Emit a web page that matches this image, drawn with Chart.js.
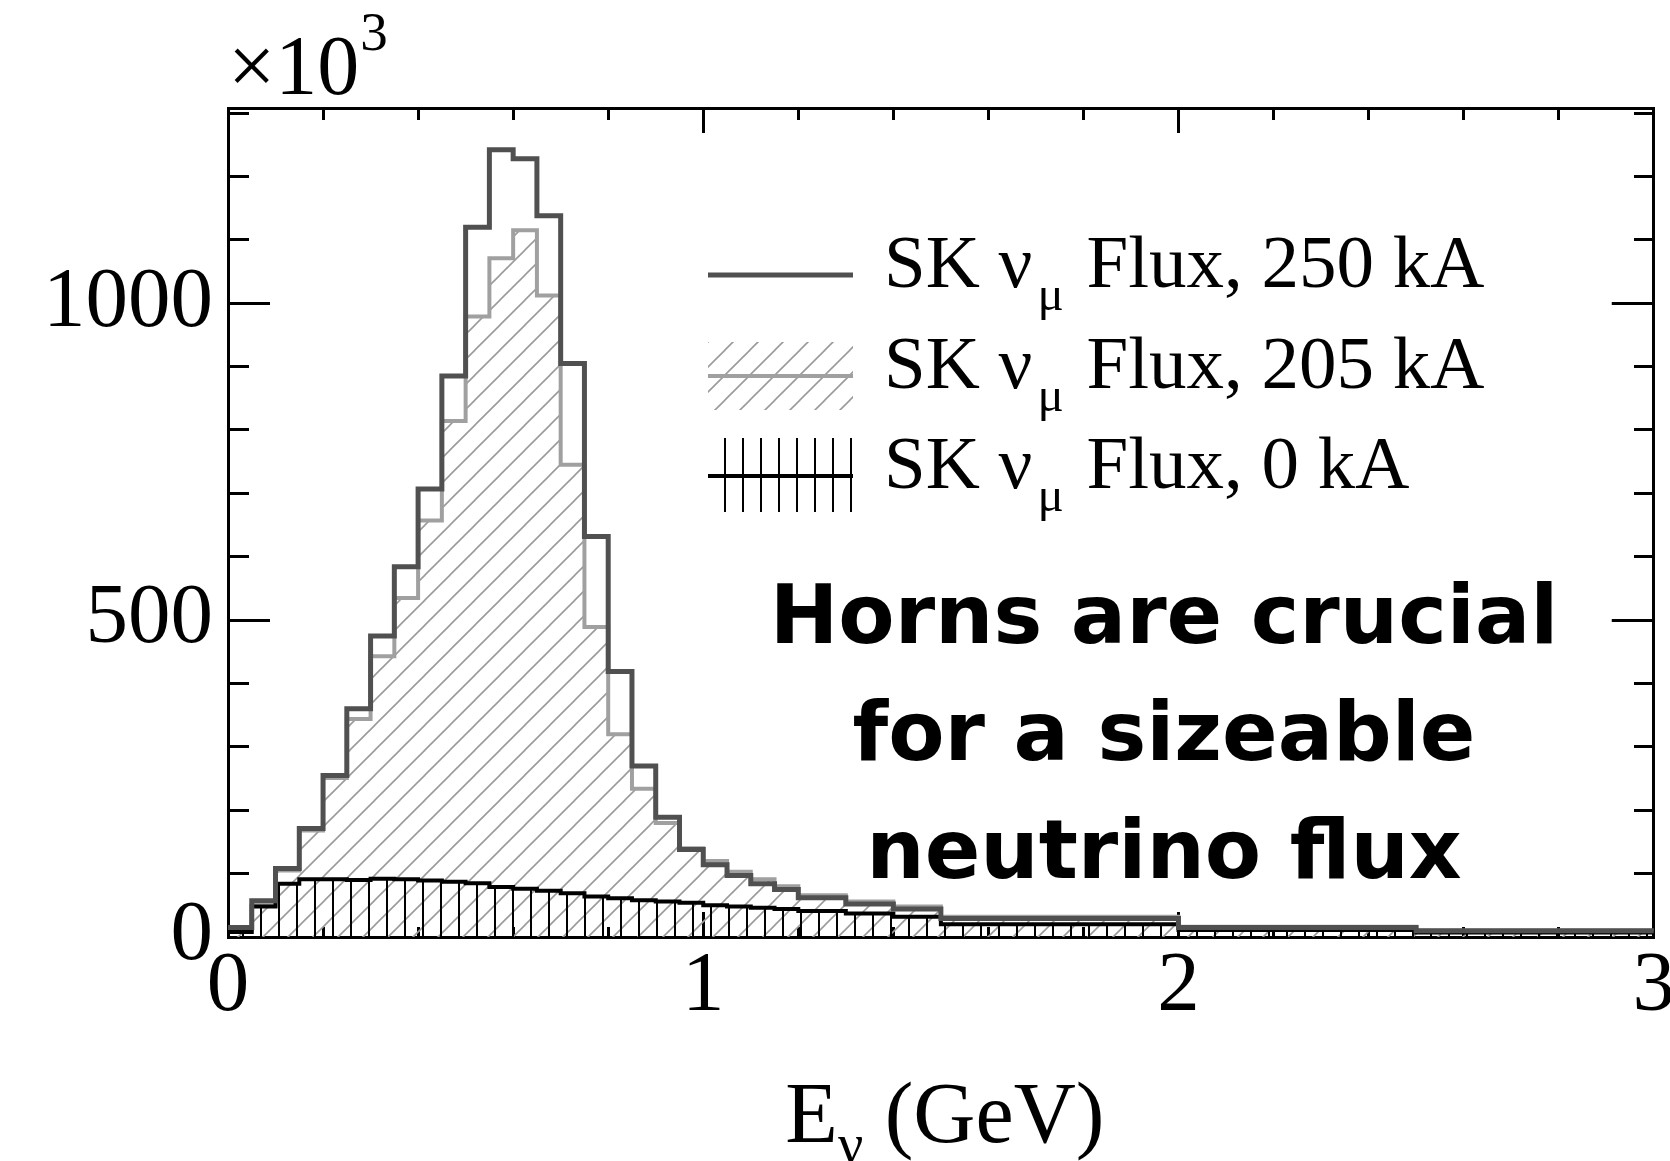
<!DOCTYPE html>
<html>
<head>
<meta charset="utf-8">
<script src="https://cdn.jsdelivr.net/npm/chart.js@4.4.1/dist/chart.umd.min.js"></script>
<style>
html,body{margin:0;padding:0;background:#fff;overflow:hidden;width:1670px;height:1161px}
#wrap{position:absolute;left:0;top:0;width:1700px;height:1161px}
</style>
</head>
<body>
<div id="wrap"><canvas id="c" width="1700" height="1161"></canvas></div>
<script>
// Bin edges of E_nu (GeV)
const binEdges = [0,0.05,0.1,0.15,0.2,0.25,0.3,0.35,0.4,0.45,0.5,0.55,0.6,0.65,0.7,0.75,0.8,0.85,0.9,0.95,1.0,1.05,1.1,1.15,1.2,1.3,1.4,1.5,2.0,2.5,3.0];
// Flux per bin, in units of 10^3
const flux250kA = [15,57,108,171,255,360,475,584,707,885,1120,1242,1228,1138,905,632,419,270,189,138,114,97,84,75,62,52,44,29,15,10];
const flux205kA = [12,50,105,168,251,344,443,535,657,814,979,1071,1115,1012,745,489,320,234,180,140,120,103,91,80,66,56,48,32,16,10];
const flux0kA   = [8,48,84,91,91,90,92,91,89,87,85,79,76,73,69,64,61,58,56,54,50,48,46,44,41,37,32,20,11,7];
// Legend labels: [main, subscript, rest]
const legendLabels = [
  ['SK ν', 'μ', ' Flux, 250 kA'],
  ['SK ν', 'μ', ' Flux, 205 kA'],
  ['SK ν', 'μ', ' Flux, 0 kA']
];
// Axes ticks
const xTickValues = [0,0.2,0.4,0.6,0.8,1,1.2,1.4,1.6,1.8,2,2.2,2.4,2.6,2.8,3];
const xMajorTicks = [0,1,2,3];
const yTickValues = [0,100,200,300,400,500,600,700,800,900,1000,1100,1200,1300];
const yMajorTicks = [0,500,1000];
const xRange = [0,3];
const yRange = [0,1308];
const annotationLines = ['Horns are crucial','for a sizeable','neutrino flux'];

const canvas = document.getElementById('c');
const mainCtx = canvas.getContext('2d');

function makeDiagPattern(){
  const s = 25;
  const c = document.createElement('canvas'); c.width = s; c.height = s;
  const g = c.getContext('2d');
  g.strokeStyle = '#9a9a9a'; g.lineWidth = 1.6;
  for (const o of [-s, 0, s]) {
    g.beginPath(); g.moveTo(o - 2, s + 2); g.lineTo(o + s + 2, -2); g.stroke();
  }
  return mainCtx.createPattern(c, 'repeat');
}
function makeVertPattern(){
  const w = 18, h = 4;
  const c = document.createElement('canvas'); c.width = w; c.height = h;
  const g = c.getContext('2d');
  g.fillStyle = '#000'; g.fillRect(8, 0, 2, h);
  return mainCtx.createPattern(c, 'repeat');
}
const diagPattern = makeDiagPattern();
const vertPattern = makeVertPattern();

function toSteps(vals){
  const pts = vals.map((v,i)=>({x: binEdges[i], y: v}));
  pts.push({x: binEdges[binEdges.length-1], y: vals[vals.length-1]});
  return pts;
}

const COL250 = '#505050', COL205 = '#a0a0a0', COL0 = '#000000';

function xMajor(v){ return xMajorTicks.some(m => Math.abs(m - v) < 1e-6); }
function yMajor(v){ return yMajorTicks.some(m => Math.abs(m - v) < 1e-6); }

// Minor ticks are shorter: dash pattern trims the tick line
function tickDash(isMaj, minorLen, fullLen, startsInside){
  const gap = fullLen - minorLen;
  return {
    tickBorderDash: (c) => (c.tick && isMaj(c.tick.value)) ? [] : (startsInside ? [60, gap] : [minorLen, 200]),
    tickBorderDashOffset: (c) => (c.tick && isMaj(c.tick.value)) ? 0 : (startsInside ? 60 : 0)
  };
}

const SERIF = '"Liberation Serif", "Times New Roman", serif';
const tickFont = {family: SERIF, size: 85};

const textPlugin = {
  id: 'rootText',
  afterDraw(chart){
    const ctx = chart.ctx;
    const a = chart.chartArea;
    ctx.save();
    ctx.fillStyle = '#000';
    ctx.textBaseline = 'alphabetic';
    ctx.textAlign = 'left';
    // x10^3 multiplier
    ctx.font = '84px ' + SERIF;
    ctx.fillText('×10', a.left, 94);
    const w10 = ctx.measureText('×10').width;
    ctx.font = '55px ' + SERIF;
    ctx.fillText('3', a.left + w10 + 1, 50);
    // x-axis title E_nu (GeV)
    ctx.font = '86px ' + SERIF;
    const wE = ctx.measureText('E').width;
    const wG = ctx.measureText(' (GeV)').width;
    ctx.font = '56px ' + SERIF;
    const wN = ctx.measureText('ν').width;
    const total = wE + wN + wG;
    let x = (a.left + a.right) / 2 - total / 2 + 4;
    ctx.font = '86px ' + SERIF;
    ctx.fillText('E', x, 1142); x += wE;
    ctx.font = '56px ' + SERIF;
    ctx.fillText('ν', x, 1163); x += wN;
    ctx.font = '86px ' + SERIF;
    ctx.fillText(' (GeV)', x, 1142);

    // Legend
    const ds = chart.data.datasets;
    const sx0 = 708, sx1 = 853, tx = 884;
    const rowY = [275, 376, 476];
    ctx.strokeStyle = ds[0].borderColor; ctx.lineWidth = ds[0].borderWidth;
    ctx.beginPath(); ctx.moveTo(sx0, rowY[0]); ctx.lineTo(sx1, rowY[0]); ctx.stroke();
    ctx.save();
    ctx.fillStyle = ds[1].backgroundColor;
    ctx.fillRect(sx0, rowY[1] - 34, sx1 - sx0, 68);
    ctx.restore();
    ctx.strokeStyle = ds[1].borderColor; ctx.lineWidth = ds[1].borderWidth;
    ctx.beginPath(); ctx.moveTo(sx0, rowY[1]); ctx.lineTo(sx1, rowY[1]); ctx.stroke();
    ctx.strokeStyle = '#000'; ctx.lineWidth = 2;
    for (let i = 0; i < 8; i++) {
      const vx = 725 + i * 18;
      ctx.beginPath(); ctx.moveTo(vx, rowY[2] - 38); ctx.lineTo(vx, rowY[2] + 36); ctx.stroke();
    }
    ctx.strokeStyle = ds[2].borderColor; ctx.lineWidth = ds[2].borderWidth;
    ctx.beginPath(); ctx.moveTo(sx0, rowY[2]); ctx.lineTo(sx1, rowY[2]); ctx.stroke();
    ctx.fillStyle = '#000';
    legendLabels.forEach((parts, i) => {
      const base = rowY[i] + 12;
      let px = tx;
      ctx.font = '75px ' + SERIF;
      ctx.fillText(parts[0], px, base); px += ctx.measureText(parts[0]).width + 5;
      ctx.font = '49px ' + SERIF;
      ctx.fillText(parts[1], px, base + 23); px += ctx.measureText(parts[1]).width + 4;
      ctx.font = '75px ' + SERIF;
      ctx.fillText(parts[2], px, base);
    });

    // hand-written annotation
    const hf = '"DejaVu Sans", sans-serif';
    ctx.font = 'bold 70px ' + hf;
    const w1 = ctx.measureText(annotationLines[0]).width;
    const size = Math.round(70 * 788 / w1);
    ctx.font = 'bold ' + size + 'px ' + hf;
    ctx.textAlign = 'center';
    const cx = 1164;
    const bases = [643, 760, 878];
    annotationLines.forEach((t, i) => ctx.fillText(t, cx, bases[i]));
    ctx.restore();
  }
};

const chart = new Chart(canvas, {
  type: 'line',
  data: {
    datasets: [
      {
        label: 'SK νμ Flux, 250 kA',
        data: toSteps(flux250kA),
        stepped: 'before',
        borderColor: COL250, borderWidth: 5,
        backgroundColor: 'rgba(0,0,0,0)',
        fill: false, pointRadius: 0, order: 0,
        borderJoinStyle: 'miter', borderCapStyle: 'butt'
      },
      {
        label: 'SK νμ Flux, 205 kA',
        data: toSteps(flux205kA),
        stepped: 'before',
        borderColor: COL205, borderWidth: 4,
        backgroundColor: diagPattern,
        fill: 'origin', pointRadius: 0, order: 2,
        borderJoinStyle: 'miter', borderCapStyle: 'butt'
      },
      {
        label: 'SK νμ Flux, 0 kA',
        data: toSteps(flux0kA),
        stepped: 'before',
        borderColor: COL0, borderWidth: 4,
        backgroundColor: vertPattern,
        fill: 'origin', pointRadius: 0, order: 1,
        borderJoinStyle: 'miter', borderCapStyle: 'butt'
      }
    ]
  },
  options: {
    responsive: false,
    devicePixelRatio: 1,
    animation: false,
    events: [],
    layout: {padding: 0},
    plugins: {legend: {display: false}, tooltip: {enabled: false}, title: {display: false}},
    scales: {
      x: {
        type: 'linear', position: 'bottom', min: xRange[0], max: xRange[1],
        afterBuildTicks: (s) => { s.ticks = xTickValues.map(v => ({value: v})); },
        afterFit: (s) => { s.height = 224; },
        border: {display: true, color: '#000', width: 3},
        grid: Object.assign({drawOnChartArea: false, drawTicks: true, tickLength: -25, tickColor: '#000', tickWidth: 3},
          tickDash(xMajor, 12, 25, false)),
        ticks: {autoSkip: false, maxRotation: 0, color: '#000', font: tickFont, padding: 25,
          callback: (v) => xMajor(v) ? String(Math.round(v)) : ''}
      },
      x2: {
        type: 'linear', position: 'top', min: xRange[0], max: xRange[1],
        afterBuildTicks: (s) => { s.ticks = xTickValues.map(v => ({value: v})); },
        afterFit: (s) => { s.height = 105; },
        border: {display: true, color: '#000', width: 3},
        grid: Object.assign({drawOnChartArea: false, drawTicks: true, tickLength: -25, tickColor: '#000', tickWidth: 3},
          tickDash(xMajor, 12, 25, true)),
        ticks: {display: false, autoSkip: false}
      },
      y: {
        type: 'linear', position: 'left', min: yRange[0], max: yRange[1],
        afterBuildTicks: (s) => { s.ticks = yTickValues.map(v => ({value: v})); },
        afterFit: (s) => { s.width = 228; },
        border: {display: true, color: '#000', width: 3},
        grid: Object.assign({drawOnChartArea: false, drawTicks: true, tickLength: -42, tickColor: '#000', tickWidth: 3},
          tickDash(yMajor, 21, 42, true)),
        ticks: {autoSkip: false, color: '#000', font: tickFont, padding: 57,
          callback: (v) => yMajor(v) ? String(v) : ''}
      },
      y2: {
        type: 'linear', position: 'right', min: yRange[0], max: yRange[1],
        afterBuildTicks: (s) => { s.ticks = yTickValues.map(v => ({value: v})); },
        afterFit: (s) => { s.width = 44; },
        border: {display: true, color: '#000', width: 3},
        grid: Object.assign({drawOnChartArea: false, drawTicks: true, tickLength: -42, tickColor: '#000', tickWidth: 3},
          tickDash(yMajor, 21, 42, false)),
        ticks: {display: false, autoSkip: false}
      }
    }
  },
  plugins: [textPlugin]
});
</script>
</body>
</html>
